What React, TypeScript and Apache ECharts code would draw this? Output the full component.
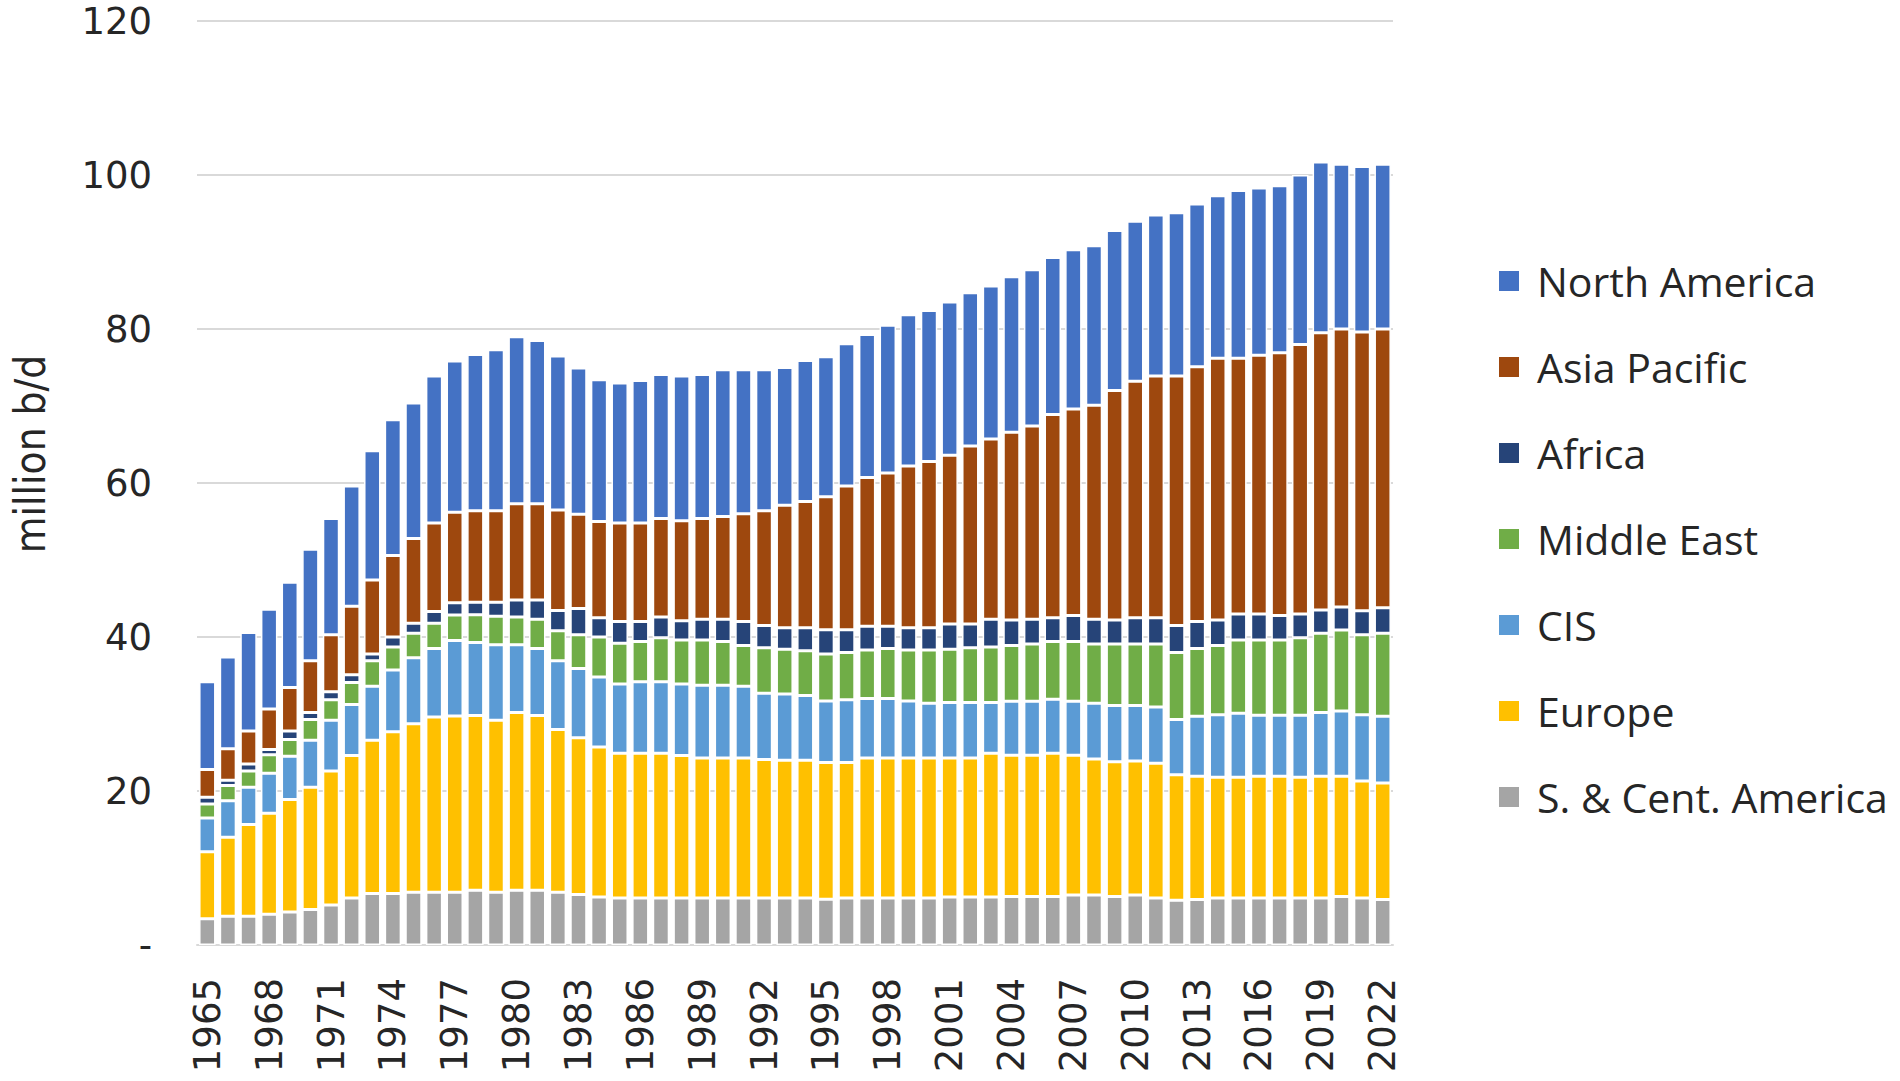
import React, { useEffect, useRef } from "react";
import * as echarts from "echarts";

const years = [
  "1965", "1966", "1967", "1968", "1969", "1970", "1971", "1972", "1973", "1974",
  "1975", "1976", "1977", "1978", "1979", "1980", "1981", "1982", "1983", "1984",
  "1985", "1986", "1987", "1988", "1989", "1990", "1991", "1992", "1993", "1994",
  "1995", "1996", "1997", "1998", "1999", "2000", "2001", "2002", "2003", "2004",
  "2005", "2006", "2007", "2008", "2009", "2010", "2011", "2012", "2013", "2014",
  "2015", "2016", "2017", "2018", "2019", "2020", "2021", "2022",
];

const sCentAmerica = [
  3.4, 3.75, 3.75, 4.0, 4.3, 4.6, 5.2, 6.1, 6.7, 6.7,
  6.85, 6.85, 6.85, 7.1, 6.85, 7.1, 7.1, 6.85, 6.55, 6.25,
  6.1, 6.1, 6.1, 6.1, 6.1, 6.1, 6.1, 6.1, 6.1, 6.1,
  5.95, 6.1, 6.1, 6.1, 6.1, 6.1, 6.25, 6.25, 6.25, 6.3,
  6.3, 6.3, 6.5, 6.5, 6.3, 6.5, 6.1, 5.8, 5.9, 6.1,
  6.1, 6.1, 6.1, 6.1, 6.1, 6.3, 6.1, 5.9,
];

const europe = [
  8.7, 10.25, 11.9, 13.1, 14.6, 15.9, 17.4, 18.5, 19.9, 21.0,
  21.9, 22.75, 22.9, 22.7, 22.35, 23.1, 22.7, 21.15, 20.35, 19.45,
  18.8, 18.8, 18.8, 18.5, 18.2, 18.2, 18.2, 18.0, 17.9, 17.9,
  17.75, 17.6, 18.2, 18.2, 18.2, 18.2, 18.05, 18.05, 18.65, 18.35,
  18.35, 18.6, 18.15, 17.65, 17.5, 17.4, 17.5, 16.3, 16.0, 15.7,
  15.7, 15.8, 15.8, 15.7, 15.8, 15.6, 15.2, 15.15,
];

const cis = [
  4.4, 4.75, 4.85, 5.2, 5.6, 6.1, 6.6, 6.65, 7.0, 8.0,
  8.55, 8.9, 9.8, 9.5, 9.8, 8.8, 8.7, 8.9, 9.0, 9.1,
  9.0, 9.3, 9.3, 9.3, 9.45, 9.45, 9.3, 8.6, 8.6, 8.4,
  8.0, 8.15, 7.7, 7.7, 7.4, 7.1, 7.2, 7.2, 6.6, 7.0,
  7.0, 7.0, 7.0, 7.25, 7.3, 7.2, 7.3, 7.2, 7.8, 8.1,
  8.3, 7.95, 7.95, 8.05, 8.3, 8.5, 8.6, 8.65,
];

const middleEast = [
  1.8, 1.95, 2.1, 2.4, 2.2, 2.7, 2.65, 2.85, 3.3, 3.0,
  3.2, 3.3, 3.3, 3.6, 3.7, 3.6, 3.8, 3.9, 4.4, 5.2,
  5.3, 5.2, 5.7, 5.7, 5.85, 5.65, 5.3, 5.9, 5.8, 5.8,
  6.1, 6.15, 6.3, 6.5, 6.6, 6.9, 6.9, 7.1, 7.2, 7.25,
  7.45, 7.5, 7.75, 7.7, 8.0, 8.0, 8.2, 8.7, 8.8, 9.0,
  9.5, 9.75, 9.75, 10.05, 10.3, 10.5, 10.4, 10.8,
];

const africa = [
  0.9, 0.7, 0.9, 0.7, 1.1, 0.9, 1.05, 1.0, 0.9, 1.3,
  1.3, 1.5, 1.6, 1.6, 1.8, 2.2, 2.5, 2.65, 3.4, 2.5,
  2.8, 2.6, 2.7, 2.5, 2.7, 2.9, 3.1, 2.9, 2.8, 3.0,
  3.15, 2.95, 3.1, 2.9, 2.9, 2.9, 3.3, 3.1, 3.6, 3.3,
  3.2, 3.1, 3.4, 3.2, 3.1, 3.4, 3.4, 3.5, 3.5, 3.3,
  3.4, 3.4, 3.2, 3.1, 3.0, 3.0, 3.1, 3.3,
];

const asiaPacific = [
  3.6, 4.1, 4.3, 5.25, 5.65, 6.7, 7.4, 8.9, 9.6, 10.6,
  11.0, 11.5, 11.75, 11.9, 11.9, 12.5, 12.5, 13.05, 12.25, 12.5,
  12.8, 12.8, 12.8, 13.0, 13.1, 13.35, 14.0, 14.9, 15.9, 16.4,
  17.25, 18.65, 19.3, 19.9, 21.0, 21.6, 21.9, 23.1, 23.4, 24.4,
  25.1, 26.4, 26.8, 27.8, 29.8, 30.7, 31.4, 32.4, 33.1, 34.0,
  33.2, 33.6, 34.1, 35.0, 36.0, 36.1, 36.2, 36.2,
];

const northAmerica = [
  11.4, 11.9, 12.8, 12.95, 13.65, 14.5, 15.1, 15.6, 16.8, 17.6,
  17.6, 19.1, 19.65, 20.3, 20.9, 21.7, 21.2, 20.0, 19.0, 18.4,
  18.2, 18.5, 18.7, 18.8, 18.7, 19.05, 18.7, 18.3, 17.9, 18.3,
  18.2, 18.5, 18.6, 19.2, 19.65, 19.6, 19.9, 19.9, 19.9, 20.2,
  20.3, 20.4, 20.7, 20.7, 20.8, 20.8, 20.9, 21.2, 21.15, 21.1,
  21.8, 21.7, 21.7, 22.0, 22.2, 21.4, 21.5, 21.4,
];

const legendOrder = [
  "North America",
  "Asia Pacific",
  "Africa",
  "Middle East",
  "CIS",
  "Europe",
  "S. & Cent. America",
];

const stackSeries = [
  { name: "S. & Cent. America", data: sCentAmerica, color: "#A5A5A5" },
  { name: "Europe", data: europe, color: "#FFC000" },
  { name: "CIS", data: cis, color: "#5B9BD5" },
  { name: "Middle East", data: middleEast, color: "#70AD47" },
  { name: "Africa", data: africa, color: "#264478" },
  { name: "Asia Pacific", data: asiaPacific, color: "#9E480E" },
  { name: "North America", data: northAmerica, color: "#4472C4" },
];

const yAxisTitle = "million b/d";

const TEXT = "#262626";
const FONT = "DejaVu Sans";

export default function App() {
  const ref = useRef<HTMLDivElement>(null);

  useEffect(() => {
    document.body.style.margin = "0";
    if (!ref.current) return;
    const chart = echarts.init(ref.current, undefined, { renderer: "svg" });
    chart.setOption({
      animation: false,
      backgroundColor: "#ffffff",
      textStyle: { fontFamily: FONT },
      grid: {
        left: 197,
        right: 507,
        top: 21,
        bottom: 136,
        containLabel: false,
        outerBoundsMode: "none",
      },
      legend: {
        orient: "vertical",
        left: 1492,
        top: 255,
        icon: "rect",
        itemWidth: 22,
        itemHeight: 22,
        itemGap: 44,
        data: legendOrder,
        textStyle: {
          fontFamily: "Open Sans",
          fontSize: 41,
          color: TEXT,
          lineHeight: 42,
          padding: [0, 0, 0, 12],
        },
      },
      graphic: [
        {
          type: "text",
          x: 30,
          y: 454,
          rotation: Math.PI / 2,
          style: {
            text: yAxisTitle,
            fontFamily: "DejaVu Sans Condensed",
            fontSize: 42,
            fill: TEXT,
            align: "center",
            verticalAlign: "middle",
          },
        },
      ],
      xAxis: {
        type: "category",
        data: years,
        axisLine: { show: true, lineStyle: { color: "#d9d9d9", width: 2 } },
        axisTick: { show: false },
        axisLabel: {
          interval: 2,
          rotate: 90,
          fontSize: 37,
          color: TEXT,
          margin: 33,
          fontFamily: FONT,
        },
      },
      yAxis: {
        type: "value",
        min: 0,
        max: 120,
        interval: 20,
        axisLine: { show: false },
        axisTick: { show: false },
        splitLine: { lineStyle: { color: "#d9d9d9", width: 2 } },
        axisLabel: {
          fontSize: 37,
          color: TEXT,
          margin: 45,
          fontFamily: FONT,
          formatter: (v: number) => (v === 0 ? "-" : String(v)),
        },
      },
      series: stackSeries.map((s) => ({
        name: s.name,
        type: "bar",
        stack: "total",
        data: s.data,
        barCategoryGap: "20%",
        itemStyle: { color: s.color, borderColor: "#ffffff", borderWidth: 1.5 },
        emphasis: { disabled: true },
      })),
    });
    return () => chart.dispose();
  }, []);

  return <div ref={ref} style={{ width: 1900, height: 1081 }} />;
}
